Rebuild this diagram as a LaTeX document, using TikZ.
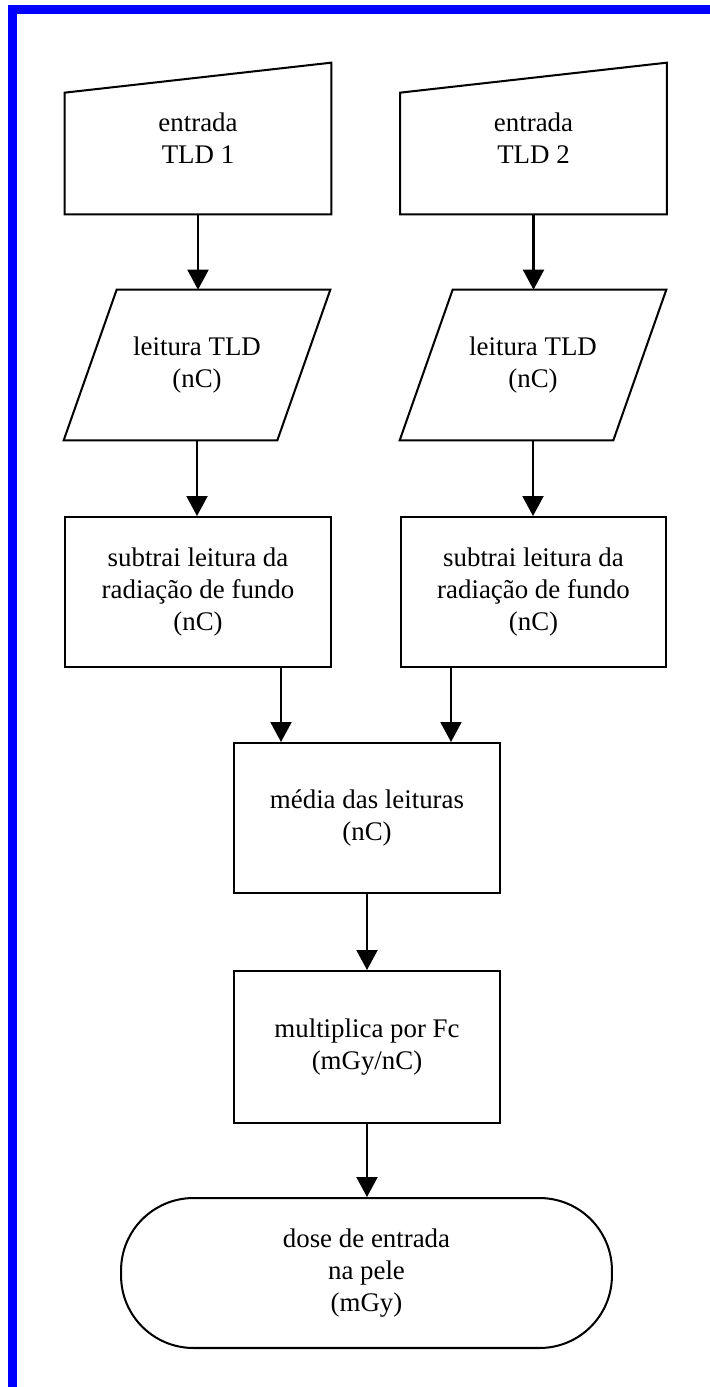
\documentclass[tikz,border=0pt]{standalone}
\usepackage{fontspec}
\setmainfont{Liberation Serif}
\usetikzlibrary{arrows.meta}

\begin{document}
\begin{tikzpicture}[x=0.02cm,y=-0.02cm,
    txt/.style={font=\fontsize{15.3}{18.3}\selectfont,align=center,inner sep=0pt,
      minimum width=5.32cm,minimum height=3cm},
    flow/.style={txt,draw,line width=1.15pt},
    arr/.style={-{Triangle[width=0.42cm,length=0.4cm]},line width=1.15pt}]
    % Frame
    \useasboundingbox (0,0) rectangle (710,1387);
    \fill[blue] (8,5) rectangle (17,1387);
    \fill[blue] (8,5) rectangle (710,14);

    % Inputs
    \node[txt,minimum height=3.02cm] (in1) at (198,138.5) {entrada\\TLD 1};
    \node[txt,minimum height=3.02cm] (in2) at (533.5,138.5) {entrada\\TLD 2};
    \foreach \n in {in1,in2}
        \draw[line width=1.15pt] (\n.south west) -- (\n.south east) -- (\n.north east)
            -- ([yshift=-0.6cm]\n.north west) -- cycle;

    % Readings
    \node[txt] (rd1) at (197,365) {leitura TLD\\(nC)};
    \node[txt] (rd2) at (533,365) {leitura TLD\\(nC)};
    \foreach \n in {rd1,rd2}
        \draw[line width=1.15pt] (\n.south west) -- ([xshift=-1.06cm]\n.south east)
            -- (\n.north east) -- ([xshift=1.06cm]\n.north west) -- cycle;

    % Steps
    \node[flow] (sb1) at (198,592) {subtrai leitura da\\radiação de fundo\\(nC)};
    \node[flow] (sb2) at (533.5,592) {subtrai leitura da\\radiação de fundo\\(nC)};
    \node[flow] (avg) at (367,818) {média das leituras\\(nC)};
    \node[flow,minimum height=3.04cm] (mul) at (367,1047) {multiplica por Fc\\(mGy/nC)};
    \node[flow,minimum width=9.82cm,rounded corners=1.45cm] (dose) at (366.5,1273)
        {dose de entrada\\na pele\\(mGy)};

    % Arrows
    \coordinate (j1) at ([xshift=0.96cm]avg.north west);
    \coordinate (j2) at ([xshift=-1cm]avg.north east);
    \draw[arr] (in1.south) -- (in1.south |- rd1.north);
    \draw[arr] (in2.south) -- (in2.south |- rd2.north);
    \draw[arr] (rd1.south) -- (rd1.south |- sb1.north);
    \draw[arr] (rd2.south) -- (rd2.south |- sb2.north);
    \draw[arr] (sb1.south -| j1) -- (j1);
    \draw[arr] (sb2.south -| j2) -- (j2);
    \draw[arr] (avg) -- (mul);
    \draw[arr] (mul.south) -- (mul.south |- dose.north);
\end{tikzpicture}
\end{document}
